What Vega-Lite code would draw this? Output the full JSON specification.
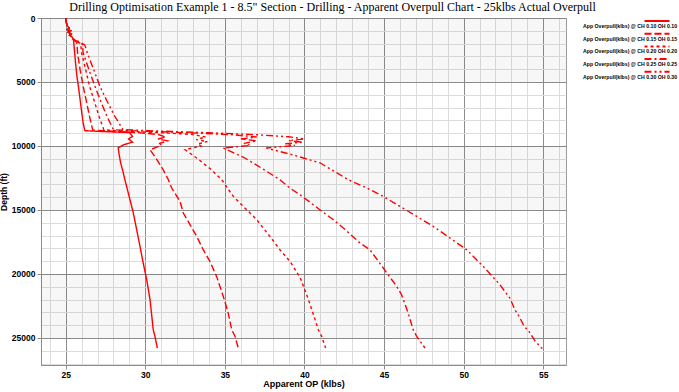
{
  "$schema": "https://vega.github.io/schema/vega-lite/v6.json",
  "width": 525,
  "height": 347,
  "autosize": {"type": "none"},
  "padding": {"left": 41, "top": 18, "right": 113, "bottom": 27},
  "background": "#ffffff",
  "title": {
    "text": "Drilling Optimisation Example 1 - 8.5\" Section - Drilling - Apparent Overpull Chart - 25klbs Actual Overpull",
    "font": "Liberation Serif", "fontSize": 12, "fontWeight": "normal", "color": "#000000",
    "anchor": "middle", "frame": "group", "dx": 29, "offset": 0
  },
  "config": {
    "view": {"stroke": "#9a9a9a", "strokeWidth": 1},
    "axis": {"labelFont": "Liberation Sans", "titleFont": "Liberation Sans"}
  },
  "datasets": {
    "bands": [
      {"y0": 0, "y1": 5000},
      {"y0": 10000, "y1": 15000},
      {"y0": 20000, "y1": 25000}
    ],
    "curves": [
      {"s": "App Overpull(klbs) @ CH 0.10 OH 0.10", "x": 25.0, "d": 0},
      {"s": "App Overpull(klbs) @ CH 0.10 OH 0.10", "x": 25.02, "d": 200},
      {"s": "App Overpull(klbs) @ CH 0.10 OH 0.10", "x": 25.05, "d": 400},
      {"s": "App Overpull(klbs) @ CH 0.10 OH 0.10", "x": 25.1, "d": 600},
      {"s": "App Overpull(klbs) @ CH 0.10 OH 0.10", "x": 25.22, "d": 800},
      {"s": "App Overpull(klbs) @ CH 0.10 OH 0.10", "x": 25.1, "d": 900},
      {"s": "App Overpull(klbs) @ CH 0.10 OH 0.10", "x": 25.3, "d": 1000},
      {"s": "App Overpull(klbs) @ CH 0.10 OH 0.10", "x": 25.15, "d": 1100},
      {"s": "App Overpull(klbs) @ CH 0.10 OH 0.10", "x": 25.35, "d": 1250},
      {"s": "App Overpull(klbs) @ CH 0.10 OH 0.10", "x": 25.25, "d": 1350},
      {"s": "App Overpull(klbs) @ CH 0.10 OH 0.10", "x": 25.42, "d": 1500},
      {"s": "App Overpull(klbs) @ CH 0.10 OH 0.10", "x": 25.48, "d": 1650},
      {"s": "App Overpull(klbs) @ CH 0.10 OH 0.10", "x": 25.5, "d": 1800},
      {"s": "App Overpull(klbs) @ CH 0.10 OH 0.10", "x": 25.55, "d": 2500},
      {"s": "App Overpull(klbs) @ CH 0.10 OH 0.10", "x": 25.62, "d": 3500},
      {"s": "App Overpull(klbs) @ CH 0.10 OH 0.10", "x": 25.7, "d": 4500},
      {"s": "App Overpull(klbs) @ CH 0.10 OH 0.10", "x": 25.8, "d": 5340},
      {"s": "App Overpull(klbs) @ CH 0.10 OH 0.10", "x": 25.9, "d": 6300},
      {"s": "App Overpull(klbs) @ CH 0.10 OH 0.10", "x": 26.0, "d": 7300},
      {"s": "App Overpull(klbs) @ CH 0.10 OH 0.10", "x": 26.1, "d": 8200},
      {"s": "App Overpull(klbs) @ CH 0.10 OH 0.10", "x": 26.2, "d": 8800},
      {"s": "App Overpull(klbs) @ CH 0.10 OH 0.10", "x": 27.5, "d": 8880},
      {"s": "App Overpull(klbs) @ CH 0.10 OH 0.10", "x": 29.0, "d": 8950},
      {"s": "App Overpull(klbs) @ CH 0.10 OH 0.10", "x": 29.2, "d": 9250},
      {"s": "App Overpull(klbs) @ CH 0.10 OH 0.10", "x": 28.95, "d": 9450},
      {"s": "App Overpull(klbs) @ CH 0.10 OH 0.10", "x": 29.2, "d": 9700},
      {"s": "App Overpull(klbs) @ CH 0.10 OH 0.10", "x": 28.65, "d": 9900},
      {"s": "App Overpull(klbs) @ CH 0.10 OH 0.10", "x": 28.3, "d": 10150},
      {"s": "App Overpull(klbs) @ CH 0.10 OH 0.10", "x": 28.35, "d": 10600},
      {"s": "App Overpull(klbs) @ CH 0.10 OH 0.10", "x": 28.45, "d": 11300},
      {"s": "App Overpull(klbs) @ CH 0.10 OH 0.10", "x": 28.6, "d": 12000},
      {"s": "App Overpull(klbs) @ CH 0.10 OH 0.10", "x": 28.72, "d": 12633},
      {"s": "App Overpull(klbs) @ CH 0.10 OH 0.10", "x": 29.04, "d": 14195},
      {"s": "App Overpull(klbs) @ CH 0.10 OH 0.10", "x": 29.25, "d": 15234},
      {"s": "App Overpull(klbs) @ CH 0.10 OH 0.10", "x": 29.46, "d": 16539},
      {"s": "App Overpull(klbs) @ CH 0.10 OH 0.10", "x": 29.67, "d": 17844},
      {"s": "App Overpull(klbs) @ CH 0.10 OH 0.10", "x": 29.87, "d": 19141},
      {"s": "App Overpull(klbs) @ CH 0.10 OH 0.10", "x": 30.09, "d": 20445},
      {"s": "App Overpull(klbs) @ CH 0.10 OH 0.10", "x": 30.3, "d": 22008},
      {"s": "App Overpull(klbs) @ CH 0.10 OH 0.10", "x": 30.5, "d": 24352},
      {"s": "App Overpull(klbs) @ CH 0.10 OH 0.10", "x": 30.61, "d": 24875},
      {"s": "App Overpull(klbs) @ CH 0.10 OH 0.10", "x": 30.76, "d": 25800},

      {"s": "App Overpull(klbs) @ CH 0.15 OH 0.15", "x": 25.0, "d": 0},
      {"s": "App Overpull(klbs) @ CH 0.15 OH 0.15", "x": 25.02, "d": 200},
      {"s": "App Overpull(klbs) @ CH 0.15 OH 0.15", "x": 25.05, "d": 400},
      {"s": "App Overpull(klbs) @ CH 0.15 OH 0.15", "x": 25.1, "d": 600},
      {"s": "App Overpull(klbs) @ CH 0.15 OH 0.15", "x": 25.22, "d": 800},
      {"s": "App Overpull(klbs) @ CH 0.15 OH 0.15", "x": 25.1, "d": 900},
      {"s": "App Overpull(klbs) @ CH 0.15 OH 0.15", "x": 25.3, "d": 1000},
      {"s": "App Overpull(klbs) @ CH 0.15 OH 0.15", "x": 25.15, "d": 1100},
      {"s": "App Overpull(klbs) @ CH 0.15 OH 0.15", "x": 25.35, "d": 1250},
      {"s": "App Overpull(klbs) @ CH 0.15 OH 0.15", "x": 25.25, "d": 1350},
      {"s": "App Overpull(klbs) @ CH 0.15 OH 0.15", "x": 25.42, "d": 1500},
      {"s": "App Overpull(klbs) @ CH 0.15 OH 0.15", "x": 25.48, "d": 1650},
      {"s": "App Overpull(klbs) @ CH 0.15 OH 0.15", "x": 25.55, "d": 1750},
      {"s": "App Overpull(klbs) @ CH 0.15 OH 0.15", "x": 25.7, "d": 1900},
      {"s": "App Overpull(klbs) @ CH 0.15 OH 0.15", "x": 25.75, "d": 2734},
      {"s": "App Overpull(klbs) @ CH 0.15 OH 0.15", "x": 25.9, "d": 4000},
      {"s": "App Overpull(klbs) @ CH 0.15 OH 0.15", "x": 26.1, "d": 5340},
      {"s": "App Overpull(klbs) @ CH 0.15 OH 0.15", "x": 26.3, "d": 6500},
      {"s": "App Overpull(klbs) @ CH 0.15 OH 0.15", "x": 26.5, "d": 7700},
      {"s": "App Overpull(klbs) @ CH 0.15 OH 0.15", "x": 26.7, "d": 8750},
      {"s": "App Overpull(klbs) @ CH 0.15 OH 0.15", "x": 28.0, "d": 8850},
      {"s": "App Overpull(klbs) @ CH 0.15 OH 0.15", "x": 29.5, "d": 8950},
      {"s": "App Overpull(klbs) @ CH 0.15 OH 0.15", "x": 30.8, "d": 9100},
      {"s": "App Overpull(klbs) @ CH 0.15 OH 0.15", "x": 31.3, "d": 9300},
      {"s": "App Overpull(klbs) @ CH 0.15 OH 0.15", "x": 30.8, "d": 9450},
      {"s": "App Overpull(klbs) @ CH 0.15 OH 0.15", "x": 31.4, "d": 9600},
      {"s": "App Overpull(klbs) @ CH 0.15 OH 0.15", "x": 30.9, "d": 9800},
      {"s": "App Overpull(klbs) @ CH 0.15 OH 0.15", "x": 31.0, "d": 9950},
      {"s": "App Overpull(klbs) @ CH 0.15 OH 0.15", "x": 30.3, "d": 10300},
      {"s": "App Overpull(klbs) @ CH 0.15 OH 0.15", "x": 30.7, "d": 11000},
      {"s": "App Overpull(klbs) @ CH 0.15 OH 0.15", "x": 31.1, "d": 11800},
      {"s": "App Overpull(klbs) @ CH 0.15 OH 0.15", "x": 31.45, "d": 12633},
      {"s": "App Overpull(klbs) @ CH 0.15 OH 0.15", "x": 31.66, "d": 13281},
      {"s": "App Overpull(klbs) @ CH 0.15 OH 0.15", "x": 32.18, "d": 14328},
      {"s": "App Overpull(klbs) @ CH 0.15 OH 0.15", "x": 32.39, "d": 15234},
      {"s": "App Overpull(klbs) @ CH 0.15 OH 0.15", "x": 32.81, "d": 16148},
      {"s": "App Overpull(klbs) @ CH 0.15 OH 0.15", "x": 33.23, "d": 17062},
      {"s": "App Overpull(klbs) @ CH 0.15 OH 0.15", "x": 33.64, "d": 18102},
      {"s": "App Overpull(klbs) @ CH 0.15 OH 0.15", "x": 34.06, "d": 19016},
      {"s": "App Overpull(klbs) @ CH 0.15 OH 0.15", "x": 34.48, "d": 20188},
      {"s": "App Overpull(klbs) @ CH 0.15 OH 0.15", "x": 34.9, "d": 21750},
      {"s": "App Overpull(klbs) @ CH 0.15 OH 0.15", "x": 35.2, "d": 23000},
      {"s": "App Overpull(klbs) @ CH 0.15 OH 0.15", "x": 35.43, "d": 24352},
      {"s": "App Overpull(klbs) @ CH 0.15 OH 0.15", "x": 35.64, "d": 24875},
      {"s": "App Overpull(klbs) @ CH 0.15 OH 0.15", "x": 35.84, "d": 25781},

      {"s": "App Overpull(klbs) @ CH 0.20 OH 0.20", "x": 25.0, "d": 0},
      {"s": "App Overpull(klbs) @ CH 0.20 OH 0.20", "x": 25.02, "d": 200},
      {"s": "App Overpull(klbs) @ CH 0.20 OH 0.20", "x": 25.05, "d": 400},
      {"s": "App Overpull(klbs) @ CH 0.20 OH 0.20", "x": 25.1, "d": 600},
      {"s": "App Overpull(klbs) @ CH 0.20 OH 0.20", "x": 25.22, "d": 800},
      {"s": "App Overpull(klbs) @ CH 0.20 OH 0.20", "x": 25.1, "d": 900},
      {"s": "App Overpull(klbs) @ CH 0.20 OH 0.20", "x": 25.3, "d": 1000},
      {"s": "App Overpull(klbs) @ CH 0.20 OH 0.20", "x": 25.15, "d": 1100},
      {"s": "App Overpull(klbs) @ CH 0.20 OH 0.20", "x": 25.35, "d": 1250},
      {"s": "App Overpull(klbs) @ CH 0.20 OH 0.20", "x": 25.25, "d": 1350},
      {"s": "App Overpull(klbs) @ CH 0.20 OH 0.20", "x": 25.42, "d": 1500},
      {"s": "App Overpull(klbs) @ CH 0.20 OH 0.20", "x": 25.48, "d": 1650},
      {"s": "App Overpull(klbs) @ CH 0.20 OH 0.20", "x": 25.6, "d": 1780},
      {"s": "App Overpull(klbs) @ CH 0.20 OH 0.20", "x": 25.94, "d": 2000},
      {"s": "App Overpull(klbs) @ CH 0.20 OH 0.20", "x": 26.0, "d": 2734},
      {"s": "App Overpull(klbs) @ CH 0.20 OH 0.20", "x": 26.25, "d": 4000},
      {"s": "App Overpull(klbs) @ CH 0.20 OH 0.20", "x": 26.5, "d": 5340},
      {"s": "App Overpull(klbs) @ CH 0.20 OH 0.20", "x": 26.8, "d": 6500},
      {"s": "App Overpull(klbs) @ CH 0.20 OH 0.20", "x": 27.1, "d": 7700},
      {"s": "App Overpull(klbs) @ CH 0.20 OH 0.20", "x": 27.4, "d": 8740},
      {"s": "App Overpull(klbs) @ CH 0.20 OH 0.20", "x": 29.0, "d": 8860},
      {"s": "App Overpull(klbs) @ CH 0.20 OH 0.20", "x": 31.0, "d": 8960},
      {"s": "App Overpull(klbs) @ CH 0.20 OH 0.20", "x": 33.0, "d": 9100},
      {"s": "App Overpull(klbs) @ CH 0.20 OH 0.20", "x": 33.8, "d": 9300},
      {"s": "App Overpull(klbs) @ CH 0.20 OH 0.20", "x": 33.2, "d": 9500},
      {"s": "App Overpull(klbs) @ CH 0.20 OH 0.20", "x": 33.9, "d": 9650},
      {"s": "App Overpull(klbs) @ CH 0.20 OH 0.20", "x": 33.3, "d": 9850},
      {"s": "App Overpull(klbs) @ CH 0.20 OH 0.20", "x": 33.5, "d": 10000},
      {"s": "App Overpull(klbs) @ CH 0.20 OH 0.20", "x": 32.5, "d": 10290},
      {"s": "App Overpull(klbs) @ CH 0.20 OH 0.20", "x": 33.3, "d": 11000},
      {"s": "App Overpull(klbs) @ CH 0.20 OH 0.20", "x": 34.1, "d": 11800},
      {"s": "App Overpull(klbs) @ CH 0.20 OH 0.20", "x": 34.8, "d": 12630},
      {"s": "App Overpull(klbs) @ CH 0.20 OH 0.20", "x": 35.53, "d": 13938},
      {"s": "App Overpull(klbs) @ CH 0.20 OH 0.20", "x": 36.16, "d": 14719},
      {"s": "App Overpull(klbs) @ CH 0.20 OH 0.20", "x": 37.0, "d": 15758},
      {"s": "App Overpull(klbs) @ CH 0.20 OH 0.20", "x": 37.83, "d": 17062},
      {"s": "App Overpull(klbs) @ CH 0.20 OH 0.20", "x": 38.46, "d": 18102},
      {"s": "App Overpull(klbs) @ CH 0.20 OH 0.20", "x": 39.09, "d": 19016},
      {"s": "App Overpull(klbs) @ CH 0.20 OH 0.20", "x": 39.72, "d": 20250},
      {"s": "App Overpull(klbs) @ CH 0.20 OH 0.20", "x": 40.25, "d": 22000},
      {"s": "App Overpull(klbs) @ CH 0.20 OH 0.20", "x": 40.6, "d": 23300},
      {"s": "App Overpull(klbs) @ CH 0.20 OH 0.20", "x": 40.87, "d": 24352},
      {"s": "App Overpull(klbs) @ CH 0.20 OH 0.20", "x": 41.08, "d": 24875},
      {"s": "App Overpull(klbs) @ CH 0.20 OH 0.20", "x": 41.33, "d": 25781},

      {"s": "App Overpull(klbs) @ CH 0.25 OH 0.25", "x": 25.0, "d": 0},
      {"s": "App Overpull(klbs) @ CH 0.25 OH 0.25", "x": 25.02, "d": 200},
      {"s": "App Overpull(klbs) @ CH 0.25 OH 0.25", "x": 25.05, "d": 400},
      {"s": "App Overpull(klbs) @ CH 0.25 OH 0.25", "x": 25.1, "d": 600},
      {"s": "App Overpull(klbs) @ CH 0.25 OH 0.25", "x": 25.22, "d": 800},
      {"s": "App Overpull(klbs) @ CH 0.25 OH 0.25", "x": 25.1, "d": 900},
      {"s": "App Overpull(klbs) @ CH 0.25 OH 0.25", "x": 25.3, "d": 1000},
      {"s": "App Overpull(klbs) @ CH 0.25 OH 0.25", "x": 25.15, "d": 1100},
      {"s": "App Overpull(klbs) @ CH 0.25 OH 0.25", "x": 25.35, "d": 1250},
      {"s": "App Overpull(klbs) @ CH 0.25 OH 0.25", "x": 25.25, "d": 1350},
      {"s": "App Overpull(klbs) @ CH 0.25 OH 0.25", "x": 25.42, "d": 1500},
      {"s": "App Overpull(klbs) @ CH 0.25 OH 0.25", "x": 25.48, "d": 1650},
      {"s": "App Overpull(klbs) @ CH 0.25 OH 0.25", "x": 25.7, "d": 1800},
      {"s": "App Overpull(klbs) @ CH 0.25 OH 0.25", "x": 26.05, "d": 2050},
      {"s": "App Overpull(klbs) @ CH 0.25 OH 0.25", "x": 26.1, "d": 2734},
      {"s": "App Overpull(klbs) @ CH 0.25 OH 0.25", "x": 26.45, "d": 4000},
      {"s": "App Overpull(klbs) @ CH 0.25 OH 0.25", "x": 26.84, "d": 5340},
      {"s": "App Overpull(klbs) @ CH 0.25 OH 0.25", "x": 27.2, "d": 6500},
      {"s": "App Overpull(klbs) @ CH 0.25 OH 0.25", "x": 27.6, "d": 7700},
      {"s": "App Overpull(klbs) @ CH 0.25 OH 0.25", "x": 28.0, "d": 8730},
      {"s": "App Overpull(klbs) @ CH 0.25 OH 0.25", "x": 30.0, "d": 8850},
      {"s": "App Overpull(klbs) @ CH 0.25 OH 0.25", "x": 33.0, "d": 8980},
      {"s": "App Overpull(klbs) @ CH 0.25 OH 0.25", "x": 35.5, "d": 9120},
      {"s": "App Overpull(klbs) @ CH 0.25 OH 0.25", "x": 37.0, "d": 9300},
      {"s": "App Overpull(klbs) @ CH 0.25 OH 0.25", "x": 36.0, "d": 9450},
      {"s": "App Overpull(klbs) @ CH 0.25 OH 0.25", "x": 37.0, "d": 9600},
      {"s": "App Overpull(klbs) @ CH 0.25 OH 0.25", "x": 36.2, "d": 9800},
      {"s": "App Overpull(klbs) @ CH 0.25 OH 0.25", "x": 36.6, "d": 9950},
      {"s": "App Overpull(klbs) @ CH 0.25 OH 0.25", "x": 34.9, "d": 10160},
      {"s": "App Overpull(klbs) @ CH 0.25 OH 0.25", "x": 36.2, "d": 10900},
      {"s": "App Overpull(klbs) @ CH 0.25 OH 0.25", "x": 37.4, "d": 11800},
      {"s": "App Overpull(klbs) @ CH 0.25 OH 0.25", "x": 38.46, "d": 12640},
      {"s": "App Overpull(klbs) @ CH 0.25 OH 0.25", "x": 39.1, "d": 13300},
      {"s": "App Overpull(klbs) @ CH 0.25 OH 0.25", "x": 39.72, "d": 13805},
      {"s": "App Overpull(klbs) @ CH 0.25 OH 0.25", "x": 40.97, "d": 14977},
      {"s": "App Overpull(klbs) @ CH 0.25 OH 0.25", "x": 41.81, "d": 15758},
      {"s": "App Overpull(klbs) @ CH 0.25 OH 0.25", "x": 42.44, "d": 16406},
      {"s": "App Overpull(klbs) @ CH 0.25 OH 0.25", "x": 43.49, "d": 17578},
      {"s": "App Overpull(klbs) @ CH 0.25 OH 0.25", "x": 44.11, "d": 18102},
      {"s": "App Overpull(klbs) @ CH 0.25 OH 0.25", "x": 44.95, "d": 19531},
      {"s": "App Overpull(klbs) @ CH 0.25 OH 0.25", "x": 45.79, "d": 20969},
      {"s": "App Overpull(klbs) @ CH 0.25 OH 0.25", "x": 46.1, "d": 21617},
      {"s": "App Overpull(klbs) @ CH 0.25 OH 0.25", "x": 46.5, "d": 23000},
      {"s": "App Overpull(klbs) @ CH 0.25 OH 0.25", "x": 46.83, "d": 24352},
      {"s": "App Overpull(klbs) @ CH 0.25 OH 0.25", "x": 47.05, "d": 24875},
      {"s": "App Overpull(klbs) @ CH 0.25 OH 0.25", "x": 47.57, "d": 25781},

      {"s": "App Overpull(klbs) @ CH 0.30 OH 0.30", "x": 25.0, "d": 0},
      {"s": "App Overpull(klbs) @ CH 0.30 OH 0.30", "x": 25.02, "d": 200},
      {"s": "App Overpull(klbs) @ CH 0.30 OH 0.30", "x": 25.05, "d": 400},
      {"s": "App Overpull(klbs) @ CH 0.30 OH 0.30", "x": 25.1, "d": 600},
      {"s": "App Overpull(klbs) @ CH 0.30 OH 0.30", "x": 25.22, "d": 800},
      {"s": "App Overpull(klbs) @ CH 0.30 OH 0.30", "x": 25.1, "d": 900},
      {"s": "App Overpull(klbs) @ CH 0.30 OH 0.30", "x": 25.3, "d": 1000},
      {"s": "App Overpull(klbs) @ CH 0.30 OH 0.30", "x": 25.15, "d": 1100},
      {"s": "App Overpull(klbs) @ CH 0.30 OH 0.30", "x": 25.35, "d": 1250},
      {"s": "App Overpull(klbs) @ CH 0.30 OH 0.30", "x": 25.25, "d": 1350},
      {"s": "App Overpull(klbs) @ CH 0.30 OH 0.30", "x": 25.42, "d": 1500},
      {"s": "App Overpull(klbs) @ CH 0.30 OH 0.30", "x": 25.48, "d": 1650},
      {"s": "App Overpull(klbs) @ CH 0.30 OH 0.30", "x": 25.8, "d": 1820},
      {"s": "App Overpull(klbs) @ CH 0.30 OH 0.30", "x": 26.2, "d": 2100},
      {"s": "App Overpull(klbs) @ CH 0.30 OH 0.30", "x": 26.36, "d": 2734},
      {"s": "App Overpull(klbs) @ CH 0.30 OH 0.30", "x": 26.75, "d": 4000},
      {"s": "App Overpull(klbs) @ CH 0.30 OH 0.30", "x": 27.15, "d": 5340},
      {"s": "App Overpull(klbs) @ CH 0.30 OH 0.30", "x": 27.6, "d": 6500},
      {"s": "App Overpull(klbs) @ CH 0.30 OH 0.30", "x": 28.1, "d": 7700},
      {"s": "App Overpull(klbs) @ CH 0.30 OH 0.30", "x": 28.6, "d": 8720},
      {"s": "App Overpull(klbs) @ CH 0.30 OH 0.30", "x": 31.0, "d": 8840},
      {"s": "App Overpull(klbs) @ CH 0.30 OH 0.30", "x": 34.0, "d": 8960},
      {"s": "App Overpull(klbs) @ CH 0.30 OH 0.30", "x": 37.0, "d": 9120},
      {"s": "App Overpull(klbs) @ CH 0.30 OH 0.30", "x": 39.0, "d": 9280},
      {"s": "App Overpull(klbs) @ CH 0.30 OH 0.30", "x": 40.0, "d": 9450},
      {"s": "App Overpull(klbs) @ CH 0.30 OH 0.30", "x": 39.0, "d": 9580},
      {"s": "App Overpull(klbs) @ CH 0.30 OH 0.30", "x": 39.9, "d": 9700},
      {"s": "App Overpull(klbs) @ CH 0.30 OH 0.30", "x": 38.8, "d": 9830},
      {"s": "App Overpull(klbs) @ CH 0.30 OH 0.30", "x": 39.4, "d": 9950},
      {"s": "App Overpull(klbs) @ CH 0.30 OH 0.30", "x": 37.6, "d": 10160},
      {"s": "App Overpull(klbs) @ CH 0.30 OH 0.30", "x": 39.3, "d": 10700},
      {"s": "App Overpull(klbs) @ CH 0.30 OH 0.30", "x": 41.0, "d": 11330},
      {"s": "App Overpull(klbs) @ CH 0.30 OH 0.30", "x": 41.9, "d": 12000},
      {"s": "App Overpull(klbs) @ CH 0.30 OH 0.30", "x": 42.75, "d": 12633},
      {"s": "App Overpull(klbs) @ CH 0.30 OH 0.30", "x": 43.91, "d": 13281},
      {"s": "App Overpull(klbs) @ CH 0.30 OH 0.30", "x": 44.95, "d": 13938},
      {"s": "App Overpull(klbs) @ CH 0.30 OH 0.30", "x": 46.0, "d": 14719},
      {"s": "App Overpull(klbs) @ CH 0.30 OH 0.30", "x": 47.05, "d": 15500},
      {"s": "App Overpull(klbs) @ CH 0.30 OH 0.30", "x": 48.09, "d": 16281},
      {"s": "App Overpull(klbs) @ CH 0.30 OH 0.30", "x": 49.14, "d": 17188},
      {"s": "App Overpull(klbs) @ CH 0.30 OH 0.30", "x": 50.19, "d": 18102},
      {"s": "App Overpull(klbs) @ CH 0.30 OH 0.30", "x": 51.23, "d": 19406},
      {"s": "App Overpull(klbs) @ CH 0.30 OH 0.30", "x": 52.28, "d": 20836},
      {"s": "App Overpull(klbs) @ CH 0.30 OH 0.30", "x": 52.91, "d": 21900},
      {"s": "App Overpull(klbs) @ CH 0.30 OH 0.30", "x": 53.22, "d": 22789},
      {"s": "App Overpull(klbs) @ CH 0.30 OH 0.30", "x": 53.54, "d": 23438},
      {"s": "App Overpull(klbs) @ CH 0.30 OH 0.30", "x": 53.8, "d": 24094},
      {"s": "App Overpull(klbs) @ CH 0.30 OH 0.30", "x": 54.1, "d": 24484},
      {"s": "App Overpull(klbs) @ CH 0.30 OH 0.30", "x": 54.5, "d": 25266},
      {"s": "App Overpull(klbs) @ CH 0.30 OH 0.30", "x": 54.96, "d": 25860}
    ]
  },
  "layer": [
    {
      "data": {"name": "bands"},
      "mark": {"type": "rect", "fill": "#000000", "opacity": 0.03},
      "encoding": {
        "x": {"datum": 23.45, "type": "quantitative",
          "scale": {"domain": [23.45, 56.43], "nice": false, "zero": false},
          "axis": {"orient": "bottom", "values": [24,25,26,27,28,29,30,31,32,33,34,35,36,37,38,39,40,41,42,43,44,45,46,47,48,49,50,51,52,53,54,55,56],
            "grid": true, "gridColor": "#dcdcdc", "gridWidth": 1, "labels": false, "ticks": false, "domain": false, "title": null}},
        "x2": {"datum": 56.43},
        "y": {"field": "y0", "type": "quantitative",
          "scale": {"domain": [0, 27110], "reverse": true, "nice": false, "zero": false},
          "axis": {"orient": "left", "values": [1000,2000,3000,4000,6000,7000,8000,9000,11000,12000,13000,14000,16000,17000,18000,19000,21000,22000,23000,24000,26000,27000],
            "grid": true, "gridColor": "#dcdcdc", "gridWidth": 1, "labels": false, "ticks": false, "domain": false, "title": null}},
        "y2": {"field": "y1"}
      }
    },
    {
      "data": {"name": "curves"},
      "mark": {"type": "line", "strokeWidth": 1.4, "clip": true},
      "encoding": {
        "x": {"field": "x", "type": "quantitative",
          "scale": {"domain": [23.45, 56.43], "nice": false, "zero": false},
          "axis": {"orient": "bottom", "values": [25,30,35,40,45,50,55], "grid": true, "gridColor": "#8c8c8c", "gridWidth": 1,
            "domainColor": "#8c8c8c", "tickColor": "#8c8c8c", "tickSize": 4, "labelPadding": 1,
            "labelFontSize": 8.5, "labelFontWeight": "bold", "labelColor": "#000000",
            "title": "Apparent OP (klbs)", "titleFontSize": 9, "titleFontWeight": "bold", "titleColor": "#000000", "titlePadding": 1}},
        "y": {"field": "d", "type": "quantitative",
          "scale": {"domain": [0, 27110], "reverse": true, "nice": false, "zero": false},
          "axis": {"orient": "left", "values": [0,5000,10000,15000,20000,25000], "format": "d", "grid": true, "gridColor": "#8c8c8c", "gridWidth": 1,
            "domainColor": "#8c8c8c", "tickColor": "#8c8c8c", "tickSize": 4, "labelPadding": 2,
            "labelFontSize": 8.5, "labelFontWeight": "bold", "labelColor": "#000000",
            "title": "Depth (ft)", "titleFontSize": 8.5, "titleFontWeight": "bold", "titleColor": "#000000", "titlePadding": 3}},
        "order": {"field": "d", "type": "quantitative"},
        "color": {"field": "s", "type": "nominal",
          "scale": {"range": ["#ff0000", "#ff0000", "#ff0000", "#ff0000", "#ff0000"]},
          "legend": {"title": null, "orient": "none", "legendX": 542, "legendY": 2, "padding": 0, "rowPadding": -0.3,
            "symbolType": "M2.7,-1H7.7", "symbolSize": 100, "symbolStrokeWidth": 2, "symbolOffset": 42,
            "labelOffset": -54, "labelFont": "Liberation Sans", "labelFontSize": 5.2, "labelFontWeight": "bold", "labelColor": "#000000", "labelLimit": 200}},
        "strokeDash": {"field": "s", "type": "nominal",
          "scale": {"range": [[1, 0], [7, 3], [3, 3], [7, 3, 2, 3], [7, 3, 2, 3, 2, 3]]},
          "legend": {"title": null, "orient": "none", "legendX": 542, "legendY": 2, "padding": 0, "rowPadding": -0.3,
            "symbolType": "M2.7,-1H7.7", "symbolSize": 100, "symbolStrokeWidth": 2, "symbolOffset": 42,
            "labelOffset": -54, "labelFont": "Liberation Sans", "labelFontSize": 5.2, "labelFontWeight": "bold", "labelColor": "#000000", "labelLimit": 200}}
      }
    }
  ],
  "resolve": {"axis": {"x": "independent", "y": "independent"}}
}
